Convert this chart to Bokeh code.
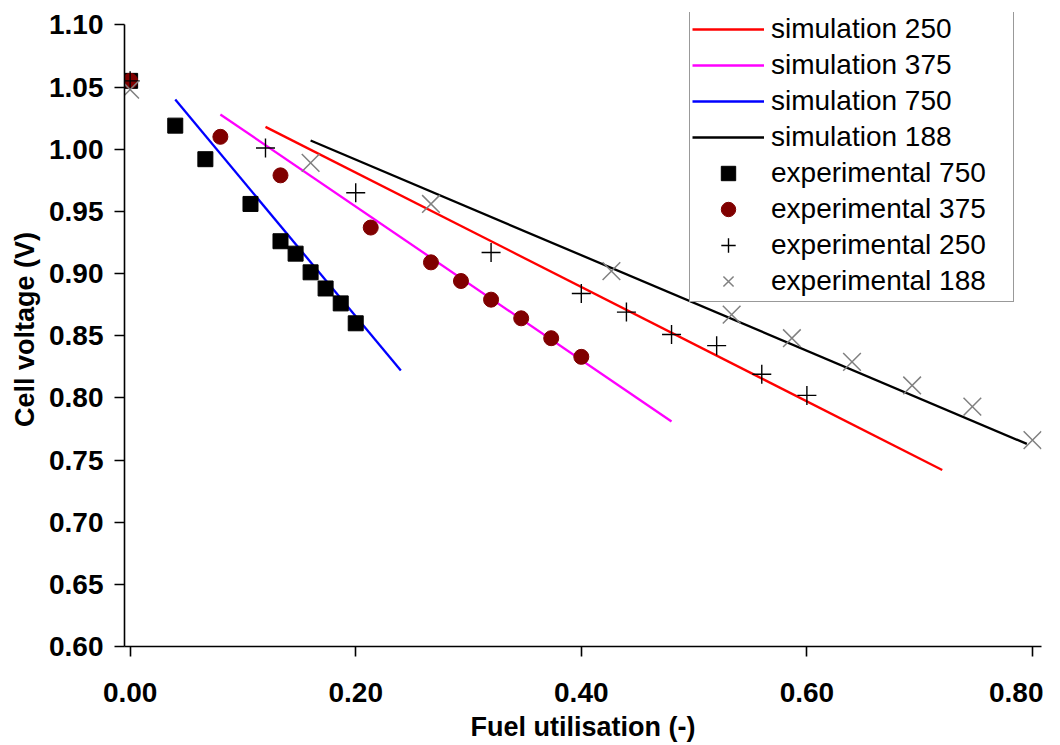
from bokeh.plotting import figure
from bokeh.models import Range1d, FixedTicker, NumeralTickFormatter, Legend, LegendItem, LinearAxis
from bokeh.embed import file_html
from bokeh.resources import INLINE

# simulation lines
sim250_x = [0.12, 0.72]
sim250_y = [1.018, 0.742]
sim375_x = [0.08, 0.48]
sim375_y = [1.028, 0.781]
sim750_x = [0.04, 0.24]
sim750_y = [1.040, 0.822]
sim188_x = [0.16, 0.795]
sim188_y = [1.007, 0.763]

# experimental points
exp750_x = [0.0, 0.04, 0.0667, 0.1067, 0.1333, 0.1467, 0.16, 0.1733, 0.1867, 0.20]
exp750_y = [1.055, 1.019, 0.992, 0.956, 0.926, 0.916, 0.901, 0.888, 0.876, 0.860]
exp375_x = [0.0, 0.08, 0.1333, 0.2133, 0.2667, 0.2933, 0.32, 0.3467, 0.3733, 0.40]
exp375_y = [1.055, 1.010, 0.979, 0.937, 0.909, 0.894, 0.879, 0.864, 0.848, 0.833]
exp250_x = [0.0, 0.12, 0.20, 0.32, 0.40, 0.44, 0.48, 0.52, 0.56, 0.60]
exp250_y = [1.055, 1.001, 0.965, 0.917, 0.884, 0.869, 0.851, 0.842, 0.819, 0.802]
exp188_x = [0.0, 0.16, 0.2667, 0.4267, 0.5333, 0.5867, 0.64, 0.6933, 0.7467, 0.80]
exp188_y = [1.048, 0.989, 0.956, 0.902, 0.867, 0.848, 0.829, 0.810, 0.793, 0.766]

x_ticks = [0.0, 0.2, 0.4, 0.6, 0.8]
y_ticks = [0.60, 0.65, 0.70, 0.75, 0.80, 0.85, 0.90, 0.95, 1.00, 1.05, 1.10]

FONT = "Liberation Sans"

p = figure(frame_width=917, frame_height=634,
           x_range=Range1d(-0.005, 0.808), y_range=Range1d(0.6, 1.11),
           output_backend="svg", toolbar_location=None,
           y_axis_location=None,
           min_border_left=124, min_border_right=2, min_border_top=12,
           min_border_bottom=0)
p.xgrid.visible = False
p.ygrid.visible = False
p.outline_line_color = None
p.background_fill_color = "white"

l1 = p.line(sim250_x, sim250_y, line_color="#FF0000", line_width=2.3)
l2 = p.line(sim375_x, sim375_y, line_color="#FF00FF", line_width=2.3)
l3 = p.line(sim750_x, sim750_y, line_color="#0000FF", line_width=2.3)
l4 = p.line(sim188_x, sim188_y, line_color="#000000", line_width=2.3)

s1 = p.scatter(exp750_x, exp750_y, marker="square", size=15, fill_color="black", line_color="black")
s2 = p.scatter(exp375_x, exp375_y, marker="circle", size=15, fill_color="#800000", line_color="#800000")
s3 = p.scatter(exp250_x, exp250_y, marker="cross", size=19, line_color="black", line_width=1.4)
s4 = p.scatter(exp188_x, exp188_y, marker="x", size=25, line_color="#808080", line_width=1.5)

yaxis = LinearAxis()
p.add_layout(yaxis, "left")

for ax in (p.xaxis[0], yaxis):
    ax.axis_line_color = "black"
    ax.axis_line_width = 1.6
    ax.major_tick_line_color = "black"
    ax.major_tick_line_width = 1.6
    ax.major_tick_out = 10
    ax.major_tick_in = 0
    ax.minor_tick_line_color = None
    ax.major_label_text_font = FONT
    ax.major_label_text_font_style = "bold"
    ax.major_label_text_font_size = "28px"
    ax.major_label_text_color = "black"
    ax.axis_label_text_font = FONT
    ax.axis_label_text_font_style = "bold"
    ax.axis_label_text_font_size = "27px"
    ax.axis_label_text_color = "black"
    ax.formatter = NumeralTickFormatter(format="0.00")

p.xaxis.ticker = FixedTicker(ticks=x_ticks)
yaxis.ticker = FixedTicker(ticks=y_ticks)
yaxis.bounds = (0.6, 1.10)
p.xaxis.axis_label = "Fuel utilisation (-)"
yaxis.axis_label = "Cell voltage (V)"
p.xaxis.major_label_standoff = 26
p.xaxis.axis_label_standoff = 7
yaxis.major_label_standoff = 11
yaxis.axis_label_standoff = 6

legend = Legend(items=[
    LegendItem(label="simulation 250", renderers=[l1]),
    LegendItem(label="simulation 375", renderers=[l2]),
    LegendItem(label="simulation 750", renderers=[l3]),
    LegendItem(label="simulation 188", renderers=[l4]),
    LegendItem(label="experimental 750", renderers=[s1]),
    LegendItem(label="experimental 375", renderers=[s2]),
    LegendItem(label="experimental 250", renderers=[s3]),
    LegendItem(label="experimental 188", renderers=[s4]),
], location=(565, 344))
legend.padding = 2
legend.spacing = 0
legend.margin = 0
legend.glyph_width = 72
legend.glyph_height = 36
legend.label_height = 36
legend.label_width = 240
legend.label_standoff = 7
legend.label_text_font = FONT
legend.label_text_font_size = "28px"
legend.label_text_color = "black"
legend.border_line_color = "#333333"
legend.border_line_width = 1
legend.background_fill_color = "white"
legend.background_fill_alpha = 1.0
p.add_layout(legend, "center")

open("out.html", "w").write(file_html(p, INLINE))
